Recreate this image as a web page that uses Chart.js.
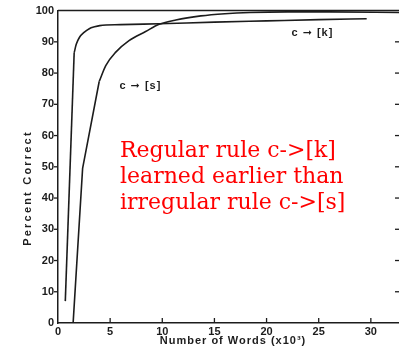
<!DOCTYPE html>
<html>
<head>
<meta charset="utf-8">
<script src="https://cdn.jsdelivr.net/npm/chart.js@4/dist/chart.umd.min.js"></script>
<style>
  html, body { margin: 0; padding: 0; background: #fff; }
  #wrap { width: 399px; height: 352px; }
</style>
</head>
<body>
<div id="wrap"><canvas id="c" width="399" height="352"></canvas></div>
<script>
// ---- data ----
// steep, straight first stretch of each curve
const kRiseWords = [0.7, 1.55];
const kRisePct   = [7.0, 86.5];
const sRiseWords = [1.45, 2.36, 3.95];
const sRisePct   = [0.0, 49.5, 77.3];
// rounded shoulder and plateau
const kWords = [1.55, 1.75, 2.05, 2.5, 3.0, 3.5, 4.0, 6.0, 9.7, 15.0, 20.0, 25.0, 29.6];
const kPct   = [86.5, 89.2, 91.4, 93.0, 94.2, 94.8, 95.2, 95.5, 95.8, 96.3, 96.7, 97.1, 97.4];
const sWords = [3.95, 4.58, 5.54, 6.81, 8.4, 9.7, 11.3, 13.7, 16.0, 18.4, 22.0, 26.0, 32.7];
const sPct   = [77.3, 82.4, 86.7, 90.4, 93.3, 95.6, 97.0, 98.3, 99.0, 99.4, 99.6, 99.6, 99.4];
const xTicks = [0, 5, 10, 15, 20, 25, 30];
const yTicks = [0, 10, 20, 30, 40, 50, 60, 70, 80, 90, 100];
const xTitle = "Number of Words (x10\u00B3)";
const yTitle = "Percent Correct";
const kLabel = "c \u279E [k]";
const sLabel = "c \u279E [s]";
const noteLines = ["Regular rule c->[k]", "learned earlier than", "irregular rule c->[s]"];

const toPts = (xs, ys) => xs.map((x, i) => ({ x: x, y: ys[i] }));
const INK = '#1c1c1c';
const TICKFONT = { family: "'Liberation Sans', Arial, sans-serif", size: 11, weight: 'bold' };

const decor = {
  id: 'decor',
  afterDraw(chart) {
    const { ctx, chartArea: a, scales: { x, y } } = chart;
    ctx.save();
    ctx.strokeStyle = INK;
    ctx.lineWidth = 1.5;
    // top frame
    ctx.beginPath();
    ctx.moveTo(a.left, y.getPixelForValue(100));
    ctx.lineTo(a.right, y.getPixelForValue(100));
    ctx.stroke();
    ctx.lineWidth = 1.3;
    // left ticks (outward), right ticks (inward)
    yTicks.forEach(v => {
      if (v === 0 || v === 100) return;
      const py = y.getPixelForValue(v);
      ctx.beginPath(); ctx.moveTo(a.left - 4, py); ctx.lineTo(a.left, py); ctx.stroke();
      ctx.beginPath(); ctx.moveTo(a.right - 4, py); ctx.lineTo(a.right, py); ctx.stroke();
    });
    // bottom ticks (inward)
    xTicks.forEach(v => {
      if (v === 0) return;
      const px = x.getPixelForValue(v);
      ctx.beginPath(); ctx.moveTo(px, a.bottom); ctx.lineTo(px, a.bottom - 5); ctx.stroke();
    });
    // axis titles
    ctx.fillStyle = INK;
    ctx.font = "bold 11px 'Liberation Sans', Arial, sans-serif";
    ctx.letterSpacing = '1px';
    ctx.textAlign = 'center';
    ctx.textBaseline = 'middle';
    ctx.fillText(xTitle, 233, 341);
    ctx.save();
    ctx.translate(28, 188);
    ctx.rotate(-Math.PI / 2);
    ctx.letterSpacing = '2.2px';
    ctx.fillText(yTitle, 0, 0);
    ctx.restore();
    // curve labels
    ctx.letterSpacing = '1px';
    ctx.font = "bold 11px 'Liberation Sans', 'DejaVu Sans', sans-serif";
    ctx.fillText(sLabel, x.getPixelForValue(7.9), y.getPixelForValue(76));
    ctx.fillText(kLabel, x.getPixelForValue(24.4), y.getPixelForValue(92.7));
    // red note
    ctx.letterSpacing = '0px';
    ctx.fillStyle = '#ff0000';
    ctx.font = "22px 'DejaVu Serif', serif";
    ctx.textAlign = 'left';
    ctx.textBaseline = 'alphabetic';
    noteLines.forEach((t, i) => ctx.fillText(t, 120, 157 + i * 26));
    ctx.restore();
  }
};

const lineDs = (label, pts, curved) => ({
  label: label, data: pts, showLine: true, borderColor: INK, borderWidth: 1.6,
  pointRadius: 0, fill: false,
  tension: 0, cubicInterpolationMode: curved ? 'monotone' : 'default'
});

new Chart(document.getElementById('c'), {
  type: 'scatter',
  data: {
    datasets: [
      lineDs('c->[k] rise', toPts(kRiseWords, kRisePct), false),
      lineDs('c->[k]', toPts(kWords, kPct), true),
      lineDs('c->[s] rise', toPts(sRiseWords, sRisePct), false),
      lineDs('c->[s]', toPts(sWords, sPct), true)
    ]
  },
  options: {
    responsive: false,
    devicePixelRatio: 1,
    animation: false,
    layout: { padding: { top: 10, left: 0, right: 0, bottom: 0 } },
    plugins: { legend: { display: false }, tooltip: { enabled: false } },
    scales: {
      x: {
        type: 'linear', min: 0, max: 32.7,
        grid: { display: false, drawTicks: false },
        border: { display: true, color: INK, width: 1.5 },
        ticks: { stepSize: 5, includeBounds: false, color: INK, font: TICKFONT, padding: 2, maxRotation: 0,
                 callback: v => xTicks.includes(v) ? String(v) : '' },
        afterFit: s => { s.height = 29; }
      },
      y: {
        min: 0, max: 100,
        grid: { display: false, drawTicks: false },
        border: { display: true, color: INK, width: 1.5 },
        ticks: { stepSize: 10, color: INK, font: TICKFONT, padding: 4,
                 callback: v => yTicks.includes(v) ? String(v) : '' },
        afterFit: s => { s.width = 58; }
      }
    }
  },
  plugins: [decor]
});
</script>
</body>
</html>
